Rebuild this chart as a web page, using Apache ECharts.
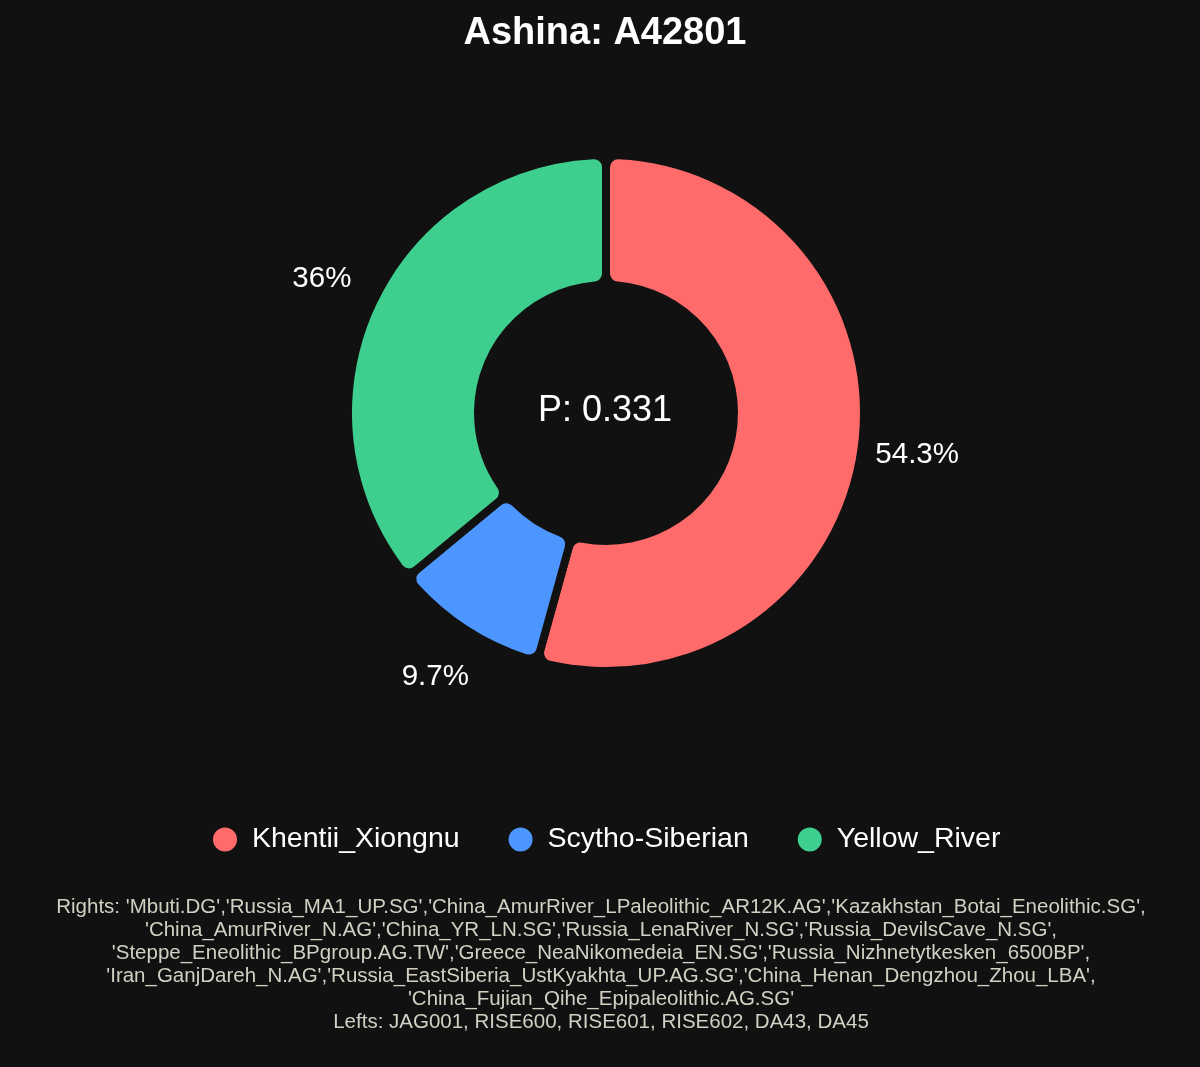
<!DOCTYPE html>
<html>
<head>
    <meta charset="UTF-8">
    <title>Ashina: A42801</title>
    <style>
        html, body { margin: 0; padding: 0; background: #111111; }
        #pie { width: 1200px; height: 1067px; }
    </style>
</head>
<body>
    <div id="pie"></div>
    <script src="https://cdn.jsdelivr.net/npm/echarts@6/dist/echarts.min.js"></script>
    <script type="text/javascript">
        // data
        var names = ['Khentii_Xiongnu', 'Scytho-Siberian', 'Yellow_River'];
        var values = [54.3, 9.7, 36];
        var colors = ['#FF6B6B', '#4D96FF', '#3ECF8E'];
        var pValue = 'P: 0.331';
        var footerLines = [
            "Rights: 'Mbuti.DG','Russia_MA1_UP.SG','China_AmurRiver_LPaleolithic_AR12K.AG','Kazakhstan_Botai_Eneolithic.SG',",
            "'China_AmurRiver_N.AG','China_YR_LN.SG','Russia_LenaRiver_N.SG','Russia_DevilsCave_N.SG',",
            "'Steppe_Eneolithic_BPgroup.AG.TW','Greece_NeaNikomedeia_EN.SG','Russia_Nizhnetytkesken_6500BP',",
            "'Iran_GanjDareh_N.AG','Russia_EastSiberia_UstKyakhta_UP.AG.SG','China_Henan_Dengzhou_Zhou_LBA',",
            "'China_Fujian_Qihe_Epipaleolithic.AG.SG'",
            "Lefts: JAG001, RISE600, RISE601, RISE602, DA43, DA45"
        ];

        var font = "'Liberation Sans', Arial, sans-serif";
        var midX = 605;   // the whole figure sits a bit right of 600

        var pieData = names.map(function (n, i) {
            return { name: n, value: values[i] };
        });

        var chart = echarts.init(document.getElementById('pie'));
        var option = {
            backgroundColor: '#111111',
            color: colors,
            textStyle: { fontFamily: font },
            title: [
                {
                    text: 'Ashina: A42801',
                    left: midX,
                    textAlign: 'center',
                    top: 15,
                    padding: 0,
                    textStyle: { color: '#ffffff', fontSize: 38, fontWeight: 'bold', fontFamily: font }
                },
                {
                    // value in the hole
                    text: pValue,
                    left: midX,
                    textAlign: 'center',
                    top: 393,
                    padding: 0,
                    textStyle: { color: '#ffffff', fontSize: 36, fontWeight: 'normal', fontFamily: font }
                },
                {
                    text: footerLines.join('\n'),
                    left: 601,
                    textAlign: 'center',
                    top: 896,
                    padding: 0,
                    textStyle: {
                        color: '#d2d0c2', fontSize: 20.5, fontWeight: 'normal',
                        lineHeight: 23, fontFamily: font
                    }
                }
            ],
            legend: {
                data: names,
                top: 820,
                left: 206,
                icon: 'circle',
                itemWidth: 26,
                itemHeight: 26,
                itemGap: 47,
                textStyle: { color: '#ffffff', fontSize: 28.5, padding: [0, 0, 0, 9], fontFamily: font }
            },
            series: [
                {
                    name: 'mix',
                    type: 'pie',
                    center: [606, 413],
                    radius: [128, 258],
                    startAngle: 90,
                    clockwise: true,
                    silent: true,
                    itemStyle: {
                        borderColor: '#111111',
                        borderWidth: 8,
                        borderRadius: 12
                    },
                    label: { show: false },
                    labelLine: { show: false },
                    data: pieData
                },
                {
                    // invisible ring that only carries the percent labels
                    name: 'labels',
                    type: 'pie',
                    center: [606, 413],
                    radius: [292, 330],
                    startAngle: 90,
                    silent: true,
                    legendHoverLink: false,
                    itemStyle: { color: 'transparent', borderWidth: 0 },
                    label: {
                        show: true,
                        position: 'inside',
                        formatter: '{c}%',
                        color: '#ffffff',
                        fontSize: 29.5,
                        fontFamily: font
                    },
                    labelLine: { show: false },
                    emphasis: { disabled: true },
                    data: pieData
                }
            ]
        };
        chart.setOption(option);
    </script>
</body>
</html>
